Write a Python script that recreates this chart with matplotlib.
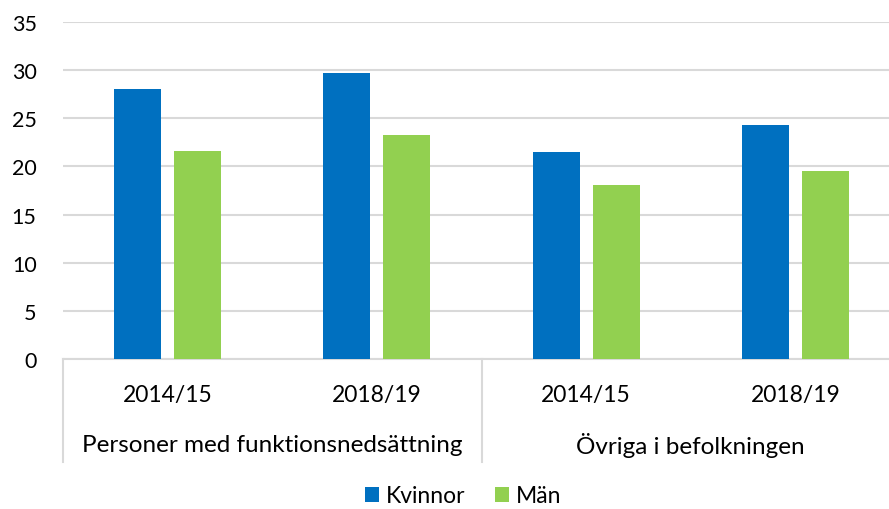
import matplotlib.pyplot as plt
import numpy as np

plt.rcParams['font.family'] = ['Lato', 'DejaVu Sans']

# Data
years = ['2014/15', '2018/19', '2014/15', '2018/19']
groups = ['Personer med funktionsnedsättning', 'Övriga i befolkningen']
kvinnor = [28.0, 29.7, 21.5, 24.3]
man = [21.6, 23.3, 18.1, 19.5]

fig = plt.figure(figsize=(8.89, 5.10), dpi=100)
# axes run a little past the right edge, as in the original
ax = fig.add_axes([63 / 889, 1 - 360 / 510, (900 - 63) / 889, 337 / 510])

x = np.arange(len(years))
w = 0.225
gap = 0.062
ax.bar(x - (w + gap) / 2, kvinnor, w, color='#0070C0', label='Kvinnor', zorder=3)
ax.bar(x + (w + gap) / 2, man, w, color='#92D050', label='Män', zorder=3)

ax.set_xlim(-0.5, len(years) - 0.5)
ax.set_ylim(0, 35)
ax.set_yticks(range(0, 36, 5))
ax.yaxis.grid(True, color='#D9D9D9', linewidth=1.5)
ax.set_axisbelow(True)
ax.tick_params(axis='y', length=0, labelsize=15.5, pad=19)
ax.set_xticks([])

for s in ['top', 'right', 'left']:
    ax.spines[s].set_visible(False)
ax.spines['bottom'].set_color('#D9D9D9')
ax.spines['bottom'].set_linewidth(1.5)

# category labels below the axis
trans = ax.get_xaxis_transform()
for i, yr in enumerate(years):
    ax.text(i, -0.105, yr, transform=trans, ha='center', va='center', fontsize=16.5)
for j, g in enumerate(groups):
    ax.text(2 * j + 0.5, -0.255, g, transform=trans, ha='center', va='center', fontsize=17.5)

# group separators
for xs in [-0.5, 1.5]:
    ax.plot([xs, xs], [0, -0.305], transform=trans, color='#D9D9D9',
            linewidth=1.5, clip_on=False)

fig.legend(loc='center', bbox_to_anchor=(463 / 889, 1 - 497 / 510), ncol=2, frameon=False,
           fontsize=16.5, handlelength=0.6, handleheight=0.6, handletextpad=0.3,
           columnspacing=1.3)

fig.savefig('out.png', dpi=100)
